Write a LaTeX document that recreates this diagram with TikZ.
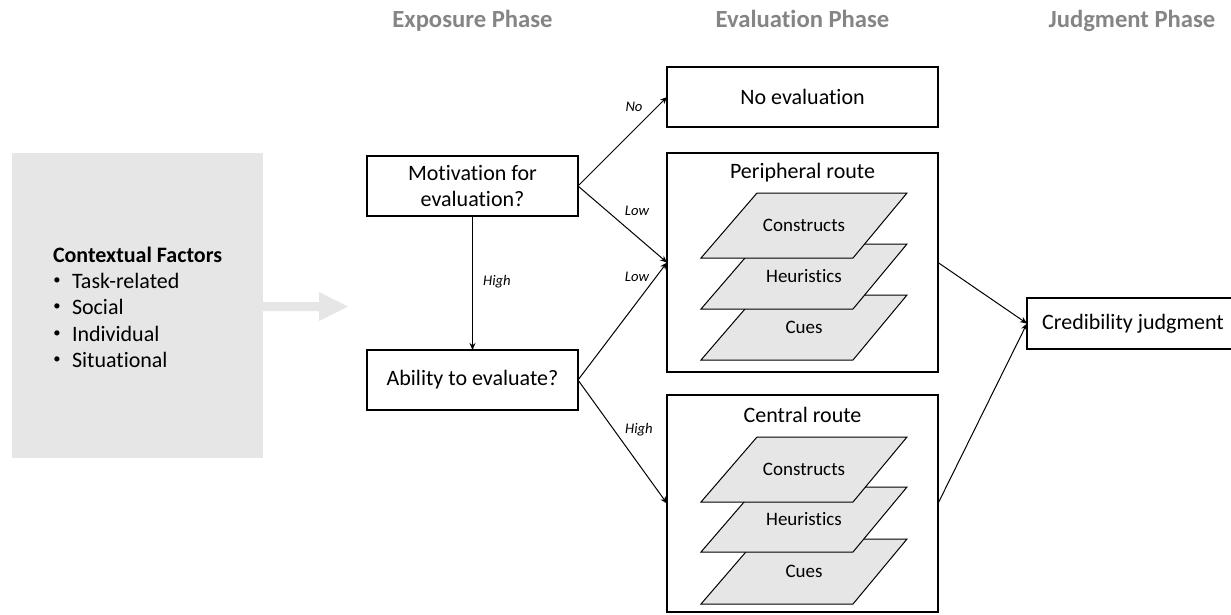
\documentclass[tikz,border=0pt]{standalone}
\usepackage{fontspec}
\setmainfont{Carlito}[Ligatures=NoCommon]
\usetikzlibrary{arrows.meta}
\newlength\pxu
\setlength\pxu{0.75pt}
\definecolor{lightfill}{HTML}{E6E6E6}
\definecolor{headgray}{HTML}{858585}
\tikzset{
  boxstyle/.style={draw=black, line width=1.6\pxu, inner sep=0pt, outer sep=0pt, align=center,
    font=\fontsize{16.5}{19.8}\selectfont},
  txt/.style={inner sep=0pt, outer sep=0pt, font=\fontsize{16.5}{19.8}\selectfont},
  layertxt/.style={inner sep=0pt, outer sep=0pt, font=\fontsize{14.25}{17}\selectfont},
  lbl/.style={inner sep=0pt, outer sep=0pt, font=\fontsize{11}{13}\selectfont\itshape},
  header/.style={inner sep=0pt, outer sep=0pt, text=headgray, anchor=base,
    font=\fontsize{18.5}{22}\selectfont\bfseries},
  arr/.style={draw=black, line width=1\pxu, -{Stealth[length=5.25pt,width=4.5pt]}},
  layer/.style={fill=lightfill, draw=black, line width=1\pxu, line join=miter},
  bullet/.style={inner sep=0pt, outer sep=0pt, font=\fontsize{11}{13}\selectfont}
}
\begin{document}
\begin{tikzpicture}[x=1\pxu, y=-1\pxu]
\useasboundingbox (0,0) rectangle (1231,614);
\clip (0,0) rectangle (1231,614);

% headers
\node[header] (h1) at (472.5,27) {Exposure Phase};
\node[header] (h2) at (802.5,27) {Evaluation Phase};
\node[header] (h3) at (1132,27) {Judgment Phase};

% contextual factors
\fill[lightfill] (12,153) rectangle (263,458);
\node[txt, anchor=base west, font=\fontsize{16.5}{19.8}\selectfont\bfseries] (cf) at (53,262) {Contextual Factors};
\foreach \y/\t [count=\i] in {288/Task-related, 314.5/Social, 341/Individual, 367.5/Situational}{
  \node[bullet] (b\i) at (57,\y-7.3) {•};
  \node[txt, anchor=base west] (f\i) at (72,\y) {\t};
}
% big gray arrow
\fill[lightfill] (263,302) -- (319,302) -- (319,292) -- (348,306.5) -- (319,321) -- (319,311) -- (263,311) -- cycle;

% decision boxes
\node[boxstyle, minimum width=211\pxu, minimum height=60\pxu] (mot) at (472.5,186) {Motivation for\\evaluation?};
\node[boxstyle, minimum width=211\pxu, minimum height=60\pxu] (abl) at (472.5,380) {Ability to evaluate?};

% evaluation boxes
\node[boxstyle, minimum width=271\pxu, minimum height=60\pxu] (noe) at (802.5,97) {No evaluation};
\node[boxstyle, minimum width=271\pxu, minimum height=219\pxu] (per) at (802.5,262.5) {};
\node[boxstyle, minimum width=271\pxu, minimum height=217\pxu] (cen) at (802.5,503.5) {};
\node[txt] (pert) at (802.5,173) {Peripheral route};
\node[txt] (cent) at (802.5,415) {Central route};

% layers: peripheral
\foreach \top/\name/\nm in {295/Cues/pc, 244/Heuristics/ph, 193/Constructs/pk}{
  \filldraw[layer] (757,\top) -- (907,\top) -- (853,\top+65) -- (701,\top+65) -- cycle;
  \node[layertxt] (\nm) at (804,\top+32.5) {\name};
}
% layers: central
\foreach \top/\name/\nm in {539/Cues/cc, 487/Heuristics/ch, 437/Constructs/ck}{
  \filldraw[layer] (757,\top) -- (907,\top) -- (853,\top+65) -- (701,\top+65) -- cycle;
  \node[layertxt] (\nm) at (804,\top+32.5) {\name};
}

% judgment
\node[boxstyle, minimum width=212\pxu, minimum height=51\pxu] (cred) at (1133,323.5) {Credibility judgment};

% connectors
\draw[arr] (mot.east) -- (noe.west);
\draw[arr] (mot.east) -- (per.west);
\draw[arr] (mot.south) -- (abl.north);
\draw[arr] (abl.east) -- (per.west);
\draw[arr] (abl.east) -- (cen.west);
\draw[arr] (per.east) -- (cred.west);
\draw[arr] (cen.east) -- (cred.west);

% labels
\node[lbl] (lno) at (634,107) {No};
\node[lbl] (llow1) at (637,211) {Low};
\node[lbl] (llow2) at (637,277) {Low};
\node[lbl] (lhigh1) at (497,281.5) {High};
\node[lbl] (lhigh2) at (639,430) {High};
\end{tikzpicture}
\end{document}
